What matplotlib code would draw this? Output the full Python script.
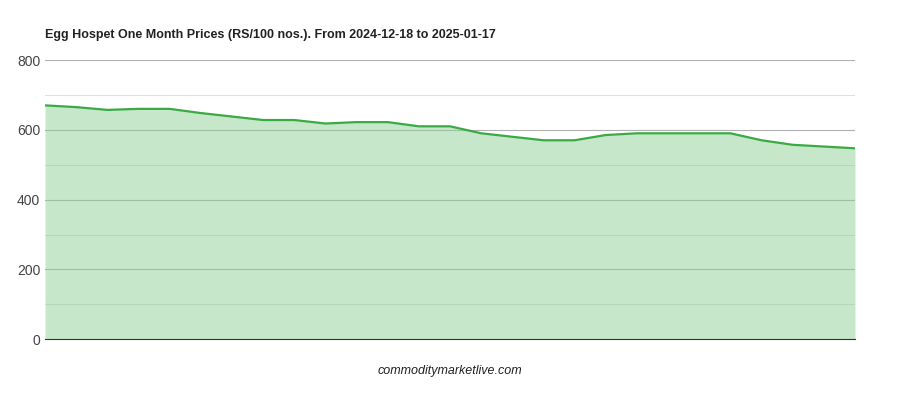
import matplotlib.pyplot as plt

plt.rcParams['font.family'] = ['Liberation Sans', 'DejaVu Sans']

prices = [670, 665, 657, 660, 660, 648, 638, 628, 628, 618, 622, 622, 610, 610,
          590, 580, 570, 570, 585, 590, 590, 590, 590, 570, 557, 552, 547]
days = list(range(len(prices)))
yticks = [0, 200, 400, 600, 800]

fig = plt.figure(figsize=(9, 4), dpi=100)
ax = fig.add_axes([0.05, 0.152, 0.9, 0.698])

# grid first, semi-transparent fill on top so lines show through greenish
ax.set_axisbelow(True)
ax.fill_between(days, prices, 0, color='#8fd095', alpha=0.5, linewidth=0)
ax.plot(days, prices, color='#3aaa45', linewidth=1.6)

ax.set_xlim(0, len(prices) - 1)
ax.set_ylim(0, 800)
ax.set_yticks(yticks)
ax.set_yticks([100, 300, 500, 700], minor=True)
ax.set_xticks([])
ax.tick_params(axis='y', which='both', length=0, labelsize=10, colors='#444444')
ax.grid(axis='y', which='major', color='#b0b0b0', linewidth=0.8)
ax.grid(axis='y', which='minor', color='#e0e0e0', linewidth=0.8)
for s in ['top', 'right', 'left']:
    ax.spines[s].set_visible(False)
ax.spines['bottom'].set_color('#333333')

fig.text(0.05, 0.905, 'Egg Hospet One Month Prices (RS/100 nos.). From 2024-12-18 to 2025-01-17',
         fontsize=9, fontweight='bold', color='#222222')
fig.text(0.5, 0.065, 'commoditymarketlive.com', fontsize=9, style='italic',
         ha='center', color='#222222')

fig.savefig('out.png')
